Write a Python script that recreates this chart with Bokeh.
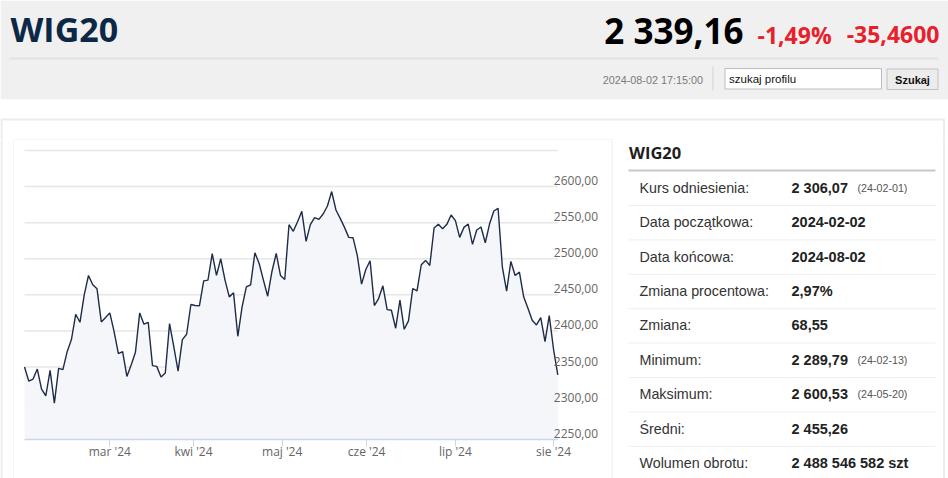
from bokeh.plotting import figure
from bokeh.models import Range1d, LinearAxis, FixedTicker
from bokeh.layouts import column, row
from bokeh.core.properties import value
from bokeh.embed import file_html
from bokeh.resources import INLINE

# ---------------- data ----------------
feb = [2350.0, 2330.6, 2333.3, 2347.2, 2319.4, 2310.2, 2345.4, 2300.0, 2348.1, 2346.3,
       2371.3, 2388.0, 2423.1, 2412.0, 2450.0, 2476.9, 2463.9, 2458.3, 2412.5, 2418.5]
mar = [2425.0, 2399.1, 2368.5, 2371.3, 2337.0, 2352.8, 2370.4, 2425.0, 2409.3, 2412.0,
       2351.9, 2350.9, 2336.1, 2341.7, 2410.2, 2377.8, 2344.4, 2388.0, 2395.4, 2436.6]
apr = [2435.2, 2434.7, 2469.4, 2470.4, 2507.0, 2476.9, 2500.0, 2470.4, 2447.2, 2452.8,
       2392.6, 2433.3, 2461.1, 2463.9, 2508.3, 2493.5, 2470.4, 2448.1, 2482.4, 2507.4, 2476.9]
may = [2471.3, 2547.2, 2538.0, 2551.4, 2565.7, 2524.1, 2547.2, 2556.9, 2554.6, 2562.0,
       2573.1, 2593.1, 2567.6, 2556.0, 2543.5, 2529.6, 2529.2, 2504.6, 2464.8, 2485.2]
jun = [2497.2, 2435.2, 2444.9, 2462.5, 2429.6, 2428.7, 2403.7, 2442.6, 2402.3, 2413.9,
       2458.8, 2455.6, 2491.7, 2497.7, 2490.7, 2542.6, 2547.7, 2541.7, 2547.7, 2560.6]
jul = [2552.8, 2529.6, 2543.5, 2548.1, 2519.9, 2539.8, 2544.0, 2522.2, 2548.1, 2566.2,
       2569.9, 2488.9, 2455.1, 2496.3, 2476.9, 2481.5, 2447.2, 2431.5, 2414.8, 2408.3,
       2418.5, 2385.2, 2421.3]
aug = [2374.62, 2339.16]
closes = feb + mar + apr + may + jun + jul + aug
session = list(range(len(closes)))

month_ticks = [20, 39.6, 60.4, 80.2, 101, 124]
month_labels = ["mar '24", "kwi '24", "maj '24", "cze '24", "lip '24", "sie '24"]
y_ticks = [2250, 2300, 2350, 2400, 2450, 2500, 2550, 2600]
y_labels = ["2250,00", "2300,00", "2350,00", "2400,00", "2450,00", "2500,00", "2550,00", "2600,00"]
grid_values = [2300, 2350, 2400, 2450, 2500, 2550, 2600, 2650]
y_min, y_max = 2250, 2650

title = "WIG20"
price = "2 339,16"
change_pct = "-1,49%"
change_abs = "-35,4600"
timestamp = "2024-08-02 17:15:00"
search_placeholder = "szukaj profilu"
search_button = "Szukaj"

table_title = "WIG20"
row_labels = ["Kurs odniesienia:", "Data początkowa:", "Data końcowa:", "Zmiana procentowa:",
              "Zmiana:", "Minimum:", "Maksimum:", "Średni:", "Wolumen obrotu:"]
row_values = ["2 306,07", "2024-02-02", "2024-08-02", "2,97%", "68,55", "2 289,79",
              "2 600,53", "2 455,26", "2 488 546 582 szt"]
row_dates = ["(24-02-01)", "", "", "", "", "(24-02-13)", "(24-05-20)", "", ""]

OPEN = value("Open Sans")
ARIAL = value("Liberation Sans")

W, H = 948, 478
HEAD_H = 140
BOX_L, BOX_R = 14, 611


def canvas(x0, x1, y0, y1):
    f = figure(width=x1 - x0, height=y1 - y0, x_range=Range1d(x0, x1), y_range=Range1d(y1, y0),
               output_backend="svg", toolbar_location=None, min_border=0,
               x_axis_location=None, y_axis_location=None)
    f.grid.visible = False
    f.outline_line_color = None
    f.background_fill_color = "white"
    f.border_fill_color = "white"
    return f


def mid(f, x, y, txt, font, size, color, bold=False, align="left"):
    f.text(x=[x], y=[y], text=[txt], text_font=font, text_font_size=size,
           text_font_style="bold" if bold else "normal", text_color=color,
           text_baseline="middle", text_align=align)


# ---------------- header ----------------
hdr = canvas(0, W, 0, HEAD_H)
hdr.quad(left=[0], right=[W], top=[0], bottom=[98.7], fill_color="#f0f0f0", line_color=None)
hdr.segment(x0=[9], y0=[58], x1=[938], y1=[58], line_color="#e2e2e2", line_width=2)
hdr.segment(x0=[712.5], y0=[66], x1=[712.5], y1=[90], line_color="#dcdcdc", line_width=1.5)
hdr.segment(x0=[0], y0=[119], x1=[944], y1=[119], line_color="#ececec", line_width=2)
hdr.segment(x0=[1], y0=[119], x1=[1], y1=[HEAD_H], line_color="#ececec", line_width=2)
hdr.segment(x0=[943.5], y0=[119], x1=[943.5], y1=[HEAD_H], line_color="#ececec", line_width=2)
hdr.segment(x0=[13], y0=[139.5], x1=[611.5], y1=[139.5], line_color="#e8e8e8", line_width=1)

mid(hdr, 10, 28.6, title, OPEN, "34px", "#0d2847", bold=True)
mid(hdr, 743, 30.2, price, OPEN, "35px", "#000000", bold=True, align="right")
mid(hdr, 757, 34.3, change_pct, OPEN, "23px", "#e8202b", bold=True)
mid(hdr, 939, 34.3, change_abs, OPEN, "23px", "#e8202b", bold=True, align="right")
mid(hdr, 702.5, 79.5, timestamp, ARIAL, "10.8px", "#7a7a7a", align="right")

hdr.quad(left=[724.5], right=[881], top=[68], bottom=[88.5], fill_color="white",
         line_color="#bdbdbd", line_width=1)
mid(hdr, 728.5, 78.5, search_placeholder, ARIAL, "11.5px", "#111111")
hdr.quad(left=[886.5], right=[937.5], top=[68.5], bottom=[89], fill_color="#ececec",
         line_color="#c2c2c2", line_width=1)
mid(hdr, 912, 79, search_button, ARIAL, "11px", "#111111", bold=True, align="center")

# ---------------- left strip (container + chart box border) ----------------
strip = canvas(0, BOX_L, HEAD_H, H)
strip.segment(x0=[1], y0=[HEAD_H], x1=[1], y1=[H], line_color="#ececec", line_width=2)
strip.segment(x0=[13.5], y0=[HEAD_H], x1=[13.5], y1=[H], line_color="#e8e8e8", line_width=1)

# ---------------- chart ----------------
# plot area in page pixels: x 24..557.3, y 150..438.7
PX_L, PX_R, PY_T, PY_B = 24.0, 557.3, 150.0, 438.7
n_last = len(closes) - 1
kx = (PX_R - PX_L) / n_last
ky = (PY_B - PY_T) / (y_max - y_min)
x_start = (BOX_L - PX_L) / kx
x_end = n_last + (BOX_R - PX_R) / kx
y_start = y_min - (H - PY_B) / ky
y_end = y_max + (PY_T - HEAD_H) / ky

chart = figure(width=BOX_R - BOX_L, height=H - HEAD_H, x_range=Range1d(x_start, x_end),
               y_range=Range1d(y_start, y_end), output_backend="svg", toolbar_location=None,
               x_axis_location=None, y_axis_location=None, min_border=0)
chart.grid.visible = False
chart.outline_line_color = None
chart.background_fill_color = "white"
chart.border_fill_color = "white"
lab_shift = 6.0 / ky
chart.extra_y_ranges = {"lab": Range1d(y_start - lab_shift, y_end - lab_shift)}

chart.segment(x0=[0] * len(grid_values), y0=grid_values, x1=[n_last] * len(grid_values),
              y1=grid_values, line_color="#e6e6e6", line_width=1.5)
chart.varea(x=session, y1=[y_min] * len(closes), y2=closes, fill_color="#f4f6f9")
chart.line(session, closes, line_color="#1e2c48", line_width=1.4)

xaxis = LinearAxis(ticker=FixedTicker(ticks=month_ticks), fixed_location=y_min,
                   bounds=(0, n_last),
                   major_label_overrides={t: l for t, l in zip(month_ticks, month_labels)},
                   axis_line_color="#ccd6eb", axis_line_width=1.5,
                   major_tick_line_color="#ccd6eb", major_tick_line_width=1,
                   major_tick_out=7, major_tick_in=0, minor_tick_line_color=None,
                   major_label_standoff=-3, major_label_text_font="Open Sans",
                   major_label_text_font_size="12px", major_label_text_color="#666666")
chart.add_layout(xaxis, "below")

yaxis = LinearAxis(y_range_name="lab", ticker=FixedTicker(ticks=y_ticks), fixed_location=n_last,
                   major_label_overrides={t: l for t, l in zip(y_ticks, y_labels)},
                   axis_line_color=None, major_tick_line_color=None, major_tick_out=0,
                   major_tick_in=0, minor_tick_line_color=None, major_label_standoff=-4,
                   major_label_text_font="Open Sans", major_label_text_font_size="12px",
                   major_label_text_color="#666666")
chart.add_layout(yaxis, "right")

# ---------------- table ----------------
tbl = canvas(BOX_R, W, HEAD_H, H)
tbl.segment(x0=[611.5], y0=[HEAD_H], x1=[611.5], y1=[H], line_color="#e8e8e8", line_width=1)
tbl.segment(x0=[943.5], y0=[HEAD_H], x1=[943.5], y1=[H], line_color="#ececec", line_width=2)
mid(tbl, 628.5, 152, table_title, OPEN, "16.5px", "#1e1e1e", bold=True)
tbl.segment(x0=[628], y0=[170], x1=[935], y1=[170], line_color="#c8c8c8", line_width=2)

n = len(row_labels)
row_y = [187.3 + 34.4 * k for k in range(n)]
sep_y = [205.0 + 34.4 * k for k in range(n - 1)]
tbl.segment(x0=[628] * len(sep_y), y0=sep_y, x1=[935] * len(sep_y), y1=sep_y,
            line_color="#eeeeee", line_width=1)
tbl.text(x=[639] * n, y=row_y, text=row_labels, text_font=ARIAL, text_font_size="14.3px",
         text_color="#333333", text_baseline="middle", text_align="left")
tbl.text(x=[791] * n, y=row_y, text=row_values, text_font=ARIAL, text_font_size="14.5px",
         text_font_style="bold", text_color="#222222", text_baseline="middle", text_align="left")
tbl.text(x=[857] * n, y=row_y, text=row_dates, text_font=ARIAL, text_font_size="10.7px",
         text_color="#555555", text_baseline="middle", text_align="left")

layout = column(hdr, row(strip, chart, tbl))
open("out.html", "w").write(file_html(layout, INLINE))
